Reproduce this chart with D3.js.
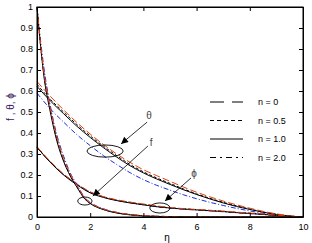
<!DOCTYPE html>
<meta charset="utf-8">
<style>
body { margin: 0; background: #fff; }
text { font-family: "Liberation Sans", Arial, sans-serif; }
.tick text { font-size: 9px; fill: #000; }
.curve { fill: none; stroke-width: 1; }
</style>
<svg width="312" height="243"></svg>
<script src="https://d3js.org/d3.v7.min.js"></script>
<script>

// eta grids
var etaF = [0, 0.1, 0.25, 0.5, 0.75, 1, 1.25, 1.5, 1.8, 2, 2.5, 3, 3.5, 4, 5, 6, 7, 8, 9, 10];
var eta = [0, 0.5, 1, 1.5, 2, 2.5, 3, 3.5, 4, 4.5, 5, 5.5, 6, 6.5, 7, 7.5, 8, 8.5, 9, 9.5, 10];

var nLabels = ["n = 0", "n = 0.5", "n = 1.0", "n = 2.0"];

// f profiles, one per n
var f0  = [1, 0.87, 0.7, 0.52, 0.38, 0.28, 0.205, 0.15, 0.09, 0.068, 0.038, 0.022, 0.012, 0.007, 0.002, 0, 0, 0, 0, 0];
var f05 = [1, 0.86, 0.69, 0.51, 0.37, 0.27, 0.2, 0.145, 0.087, 0.066, 0.036, 0.02, 0.011, 0.006, 0.002, 0, 0, 0, 0, 0];
var f1  = [1, 0.86, 0.68, 0.5, 0.36, 0.265, 0.195, 0.142, 0.085, 0.064, 0.035, 0.019, 0.01, 0.005, 0.001, 0, 0, 0, 0, 0];
var f2  = [1, 0.88, 0.72, 0.53, 0.39, 0.29, 0.21, 0.155, 0.092, 0.07, 0.039, 0.022, 0.012, 0.006, 0.002, 0, 0, 0, 0, 0];

// theta profiles
var t0  = [0.645, 0.575, 0.51, 0.45, 0.395, 0.345, 0.3, 0.26, 0.225, 0.197, 0.17, 0.143, 0.118, 0.096, 0.076, 0.058, 0.042, 0.027, 0.015, 0.006, 0];
var t05 = [0.632, 0.56, 0.5, 0.44, 0.386, 0.337, 0.292, 0.25, 0.215, 0.186, 0.16, 0.134, 0.11, 0.089, 0.07, 0.053, 0.038, 0.024, 0.013, 0.005, 0];
var t1  = [0.622, 0.553, 0.492, 0.432, 0.379, 0.33, 0.285, 0.244, 0.21, 0.181, 0.155, 0.13, 0.107, 0.086, 0.067, 0.05, 0.036, 0.023, 0.012, 0.004, 0];
var t2  = [0.59, 0.515, 0.452, 0.392, 0.34, 0.292, 0.25, 0.211, 0.178, 0.151, 0.128, 0.106, 0.087, 0.07, 0.055, 0.041, 0.029, 0.018, 0.009, 0.003, 0];

// phi profiles
var p0  = [0.335, 0.265, 0.205, 0.158, 0.12, 0.097, 0.082, 0.071, 0.062, 0.053, 0.045, 0.04, 0.036, 0.032, 0.028, 0.023, 0.019, 0.014, 0.009, 0.004, 0];
var p05 = [0.333, 0.262, 0.202, 0.155, 0.117, 0.095, 0.08, 0.069, 0.06, 0.051, 0.044, 0.039, 0.035, 0.031, 0.027, 0.022, 0.018, 0.013, 0.008, 0.004, 0];
var p1  = [0.332, 0.26, 0.2, 0.153, 0.115, 0.093, 0.078, 0.067, 0.058, 0.049, 0.043, 0.038, 0.034, 0.03, 0.026, 0.021, 0.017, 0.012, 0.008, 0.003, 0];
var p2  = [0.33, 0.262, 0.203, 0.157, 0.119, 0.096, 0.08, 0.068, 0.058, 0.049, 0.042, 0.037, 0.033, 0.029, 0.025, 0.02, 0.016, 0.012, 0.007, 0.003, 0];

var styles = [
  {color: "#e0400c", dash: "7,3"},
  {color: "#000", dash: "3,2"},
  {color: "#000", dash: null},
  {color: "#1a2ee0", dash: "5,2,1,2"}
];
var legendDash = ["14,8", "4,3", null, "6,4,2,4"];
var drawOrder = [3, 1, 2, 0];

// annotations: label, label pos, arrow from/to, ellipse centre and radii (data units)
var notes = [
  {text: "θ", lx: 4.21, ly: 0.481, x1: 4.14, y1: 0.452, x2: 3.16, y2: 0.348, cx: 2.56, cy: 0.314, rx: 0.68, ry: 0.029},
  {text: "f", lx: 4.29, ly: 0.357, x1: 4.17, y1: 0.338, x2: 2.1, y2: 0.1, cx: 1.8, cy: 0.076, rx: 0.27, ry: 0.019},
  {text: "ϕ", lx: 5.9, ly: 0.205, x1: 5.79, y1: 0.186, x2: 4.81, y2: 0.076, cx: 4.62, cy: 0.043, rx: 0.38, ry: 0.024}
];

var svg = d3.select("svg");

var x = d3.scaleLinear().domain([0, 10]).range([37, 303]),
    y = d3.scaleLinear().domain([0, 1]).range([217, 7]);

var line = d3.line()
    .curve(d3.curveMonotoneX)
    .x(function(d) { return x(d[0]); })
    .y(function(d) { return y(d[1]); });

function drawFamily(xs, sets) {
  drawOrder.forEach(function(i) {
    svg.append("path")
        .attr("class", "curve")
        .datum(xs.map(function(e, k) { return [e, sets[i][k]]; }))
        .attr("stroke", styles[i].color)
        .attr("stroke-dasharray", styles[i].dash)
        .attr("d", line);
  });
}

drawFamily(eta, [t0, t05, t1, t2]);
drawFamily(eta, [p0, p05, p1, p2]);
drawFamily(etaF, [f0, f05, f1, f2]);

// axes with inward ticks
svg.append("g")
    .attr("class", "axis")
    .attr("transform", "translate(0," + y(0) + ")")
    .call(d3.axisBottom(x).ticks(5).tickSizeInner(-4).tickSizeOuter(0).tickPadding(7));

svg.append("g")
    .attr("class", "axis")
    .attr("transform", "translate(" + x(0) + ",0)")
    .call(d3.axisLeft(y).ticks(10).tickFormat(d3.format("")).tickSizeInner(-4).tickSizeOuter(0).tickPadding(4));

svg.append("g")
    .attr("transform", "translate(0," + y(1) + ")")
    .call(d3.axisTop(x).ticks(5).tickSizeInner(-4).tickSizeOuter(0).tickFormat(""));

svg.append("g")
    .attr("transform", "translate(" + x(10) + ",0)")
    .call(d3.axisRight(y).ticks(10).tickSizeInner(-4).tickSizeOuter(0).tickFormat(""));

svg.selectAll(".domain").attr("stroke", "#000");
svg.selectAll(".tick line").attr("stroke", "#000");

svg.append("rect")
    .attr("x", x(0)).attr("y", y(1))
    .attr("width", x(10) - x(0)).attr("height", y(0) - y(1))
    .attr("fill", "none").attr("stroke", "#000");

// annotations
svg.append("defs").append("marker")
    .attr("id", "arrow")
    .attr("viewBox", "0 0 10 10")
    .attr("refX", 10).attr("refY", 5)
    .attr("markerWidth", 9).attr("markerHeight", 7)
    .attr("markerUnits", "userSpaceOnUse")
    .attr("orient", "auto")
  .append("path")
    .attr("d", "M0,0L10,5L0,10z")
    .attr("fill", "#000");

notes.forEach(function(n) {
  svg.append("ellipse")
      .attr("cx", x(n.cx)).attr("cy", y(n.cy))
      .attr("rx", x(n.rx) - x(0)).attr("ry", y(0) - y(n.ry))
      .attr("fill", "none").attr("stroke", "#000").attr("stroke-width", 0.9);
  svg.append("line")
      .attr("x1", x(n.x1)).attr("y1", y(n.y1))
      .attr("x2", x(n.x2)).attr("y2", y(n.y2))
      .attr("stroke", "#000").attr("stroke-width", 0.8)
      .attr("marker-end", "url(#arrow)");
  svg.append("text")
      .attr("x", x(n.lx)).attr("y", y(n.ly))
      .attr("text-anchor", "middle")
      .attr("dy", "0.35em")
      .attr("font-size", 10)
      .attr("fill", "#444")
      .text(n.text);
});

// legend
var leg = svg.append("g");
nLabels.forEach(function(t, i) {
  var ly = 102 + i * 18.5;
  leg.append("line")
      .attr("x1", 210).attr("x2", 243)
      .attr("y1", ly).attr("y2", ly)
      .attr("stroke", "#000").attr("stroke-width", 1.1)
      .attr("stroke-dasharray", legendDash[i]);
  leg.append("text")
      .attr("x", 258).attr("y", ly)
      .attr("dy", "0.35em")
      .attr("font-size", 9)
      .text(t);
});

// axis titles
svg.append("text")
    .attr("x", 167).attr("y", 237)
    .attr("text-anchor", "middle")
    .attr("dy", "0.35em")
    .attr("font-size", 10)
    .text("η");

svg.append("text")
    .attr("transform", "translate(10,107) rotate(-90)")
    .attr("text-anchor", "middle")
    .attr("dy", "0.35em")
    .attr("font-size", 10)
    .attr("fill", "#3c2060")
    .text("f , θ, ϕ");

</script>
